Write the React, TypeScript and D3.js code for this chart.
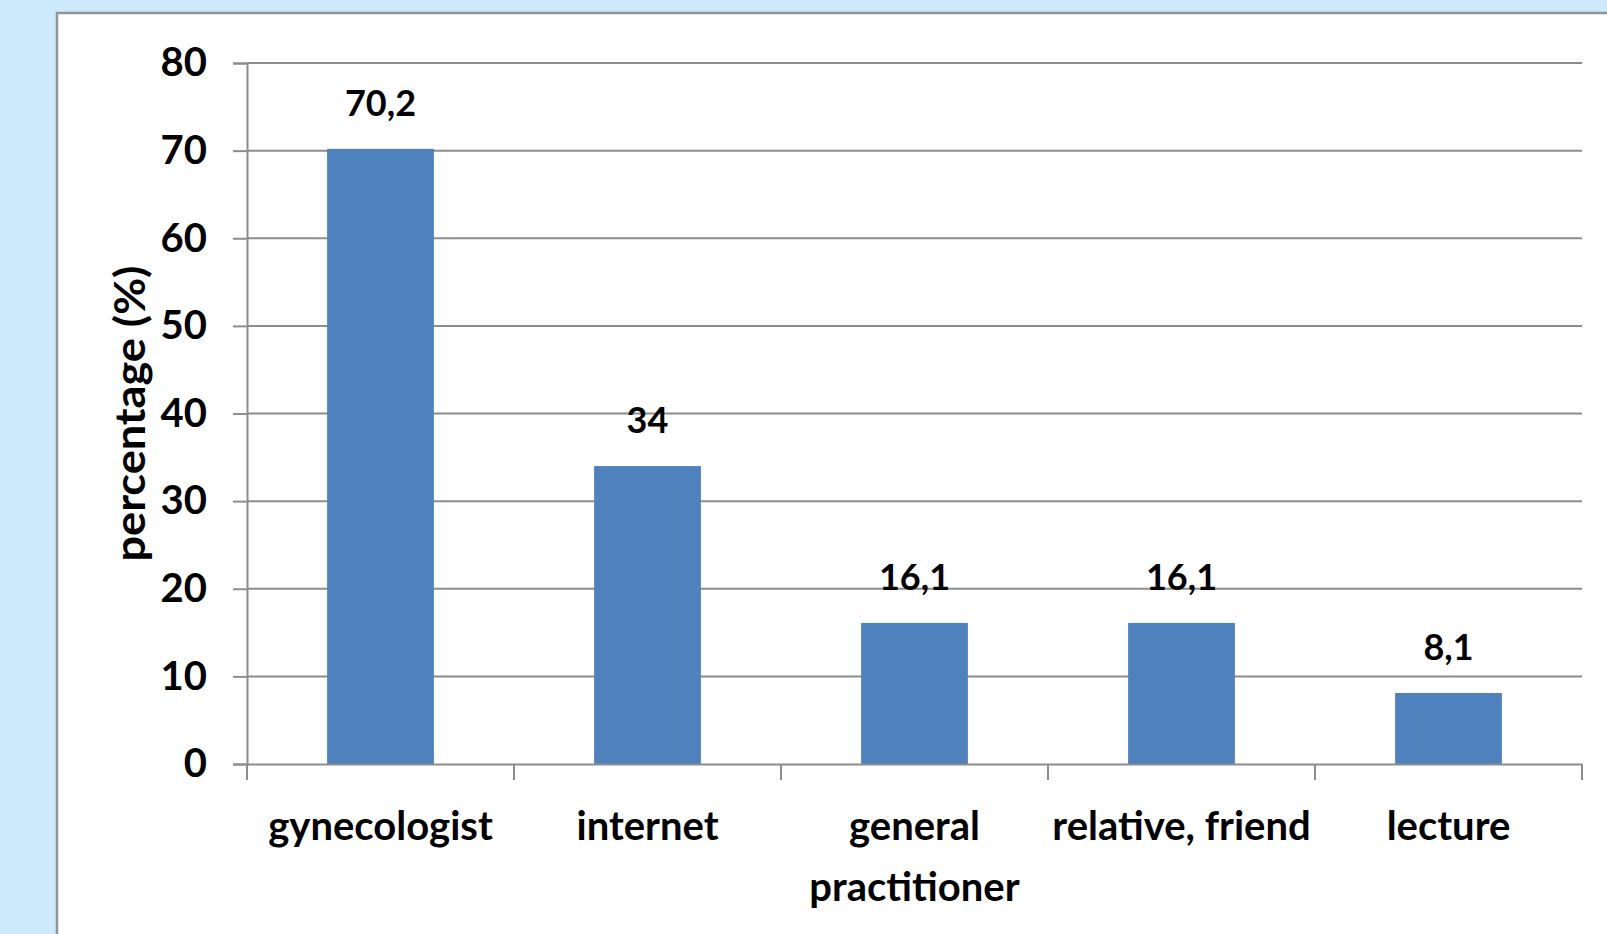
import React, { useEffect, useRef } from 'react'
import { select, scaleBand, scaleLinear, axisLeft, axisBottom } from 'd3'

const categories = ['gynecologist', 'internet', 'general practitioner', 'relative, friend', 'lecture']
const labelLines = [['gynecologist'], ['internet'], ['general', 'practitioner'], ['relative, friend'], ['lecture']]
const values = [70.2, 34, 16.1, 16.1, 8.1]
const valueLabels = ['70,2', '34', '16,1', '16,1', '8,1']
const yTicks = [0, 10, 20, 30, 40, 50, 60, 70, 80]

const W = 1607
const H = 934
const FONT = 'Lato, "Open Sans", sans-serif'

function App() {
  const ref = useRef<SVGSVGElement>(null)

  useEffect(() => {
    const svg = select(ref.current)
    svg.selectAll('*').remove()

    // background + white panel
    svg.append('rect').attr('width', W).attr('height', H).attr('fill', '#cdeafc')
    svg.append('rect')
      .attr('x', 57).attr('y', 13).attr('width', W).attr('height', H)
      .attr('fill', '#fff').attr('stroke', '#959595').attr('stroke-width', 2.5)

    const left = 247, right = 1582, top = 63, bottom = 764

    const x = scaleBand().domain(categories).range([left, right]).paddingInner(0).paddingOuter(0)
    const y = scaleLinear().domain([0, 80]).range([bottom, top])

    // gridlines
    svg.append('g').selectAll('line').data(yTicks.filter(d => d > 0)).enter().append('line')
      .attr('x1', left).attr('x2', right)
      .attr('y1', d => y(d)).attr('y2', d => y(d))
      .attr('stroke', '#8c8c8c').attr('stroke-width', 2)

    // y axis
    const yAxis = svg.append('g').attr('transform', `translate(${left},0)`)
      .call(axisLeft(y).tickValues(yTicks).tickSize(14).tickPadding(26).tickFormat(d => String(d)))
    yAxis.select('.domain').attr('stroke', '#8c8c8c').attr('stroke-width', 2)
    yAxis.selectAll('line').attr('stroke', '#8c8c8c').attr('stroke-width', 2)
    yAxis.selectAll('text')
      .attr('font-family', FONT).attr('font-weight', 'bold').attr('font-size', 40)
      .attr('fill', '#000')

    // bars
    const bw = x.bandwidth() * 0.4
    svg.append('g').selectAll('rect').data(values).enter().append('rect')
      .attr('x', (d, i) => (x(categories[i]) as number) + (x.bandwidth() - bw) / 2)
      .attr('y', d => y(d))
      .attr('width', bw)
      .attr('height', d => bottom - y(d))
      .attr('fill', '#4f81bd')

    // x axis
    const xAxis = svg.append('g').attr('transform', `translate(0,${bottom})`)
      .call(axisBottom(x).tickSize(0).tickFormat(() => ''))
    xAxis.select('.domain').attr('stroke', '#8c8c8c').attr('stroke-width', 2)
    xAxis.selectAll('.tick').remove()
    const edges = categories.map(c => x(c) as number).concat([right])
    svg.append('g').selectAll('line').data(edges).enter().append('line')
      .attr('x1', d => d).attr('x2', d => d)
      .attr('y1', bottom).attr('y2', bottom + 16)
      .attr('stroke', '#8c8c8c').attr('stroke-width', 2)

    // category labels
    const lab = svg.append('g').selectAll('text').data(labelLines).enter().append('text')
      .attr('text-anchor', 'middle')
      .attr('font-family', FONT).attr('font-weight', 'bold').attr('font-size', 40)
      .attr('fill', '#000')
    lab.each(function (lines, i) {
      const cx = (x(categories[i]) as number) + x.bandwidth() / 2
      select(this).selectAll('tspan').data(lines).enter().append('tspan')
        .attr('x', cx).attr('y', (d, j) => 840 + j * 61).text(d => d)
    })

    // value labels
    svg.append('g').selectAll('text').data(values).enter().append('text')
      .attr('x', (d, i) => (x(categories[i]) as number) + x.bandwidth() / 2)
      .attr('y', d => y(d) - 33)
      .attr('text-anchor', 'middle')
      .attr('font-family', FONT).attr('font-weight', 'bold').attr('font-size', 36)
      .attr('fill', '#000')
      .text((d, i) => valueLabels[i])

    // y title
    svg.append('text')
      .attr('transform', `translate(145,${(top + bottom) / 2}) rotate(-90)`)
      .attr('text-anchor', 'middle')
      .attr('font-family', FONT).attr('font-weight', 'bold').attr('font-size', 42)
      .attr('textLength', 296).attr('lengthAdjust', 'spacingAndGlyphs')
      .attr('fill', '#000')
      .text('percentage (%)')
  }, [])

  return (
    <svg ref={ref} width={W} height={H} viewBox={`0 0 ${W} ${H}`}
      style={{ position: 'absolute', left: 0, top: 0, display: 'block' }} />
  )
}

export default App
